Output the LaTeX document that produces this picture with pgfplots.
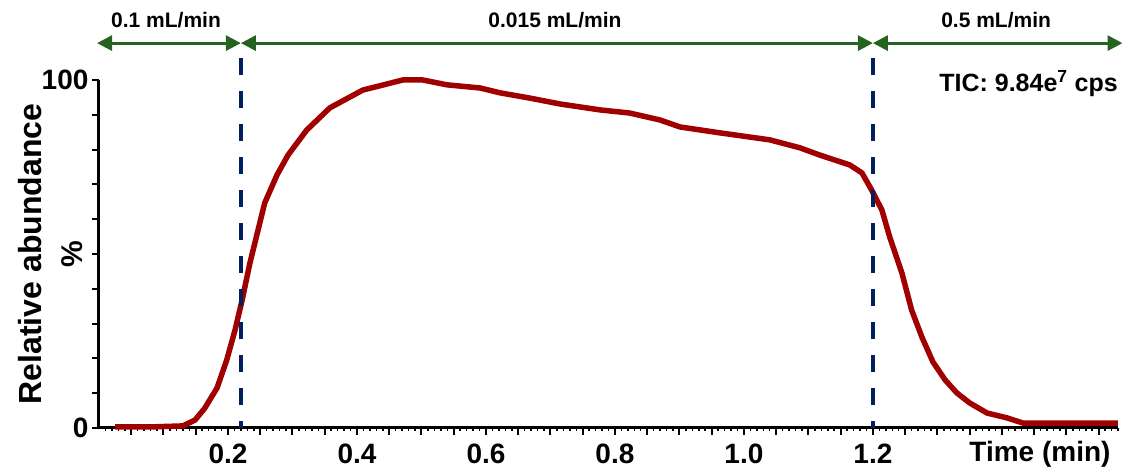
\documentclass[border=0pt]{standalone}
\usepackage{fontspec}
\setmainfont{Liberation Sans}
\usepackage{pgfplots}
\pgfplotsset{compat=1.18}
\usetikzlibrary{arrows.meta}
\definecolor{curvered}{RGB}{160,0,0}
\definecolor{navyblue}{RGB}{0,32,96}
\definecolor{arrowgreen}{RGB}{38,98,32}
\begin{document}
\begin{tikzpicture}
\path[use as bounding box] (0,0) rectangle (1124pt,470pt);
\begin{axis}[
  at={(99pt,42pt)}, anchor=south west,
  width=1019pt, height=348pt, scale only axis,
  xmin=0, xmax=1.58, ymin=0, ymax=100,
  axis x line=bottom, axis y line=left,
  axis line style={-, line width=3pt, black},
  clip=false,
  tick align=outside,
  xtick={0.2,0.4,0.6,0.8,1.0,1.2},
  xticklabels={0.2,0.4,0.6,0.8,1.0,1.2},
  minor xtick={0.05,0.1,...,1.55},
  extra x ticks={0.01,0.02,...,1.58},
  extra x tick labels={},
  extra x tick style={major tick length=3pt, tick style={line width=1.5pt}},
  ytick={0,10,20,30,40,50,60,70,80,90,100},
  yticklabels={0,{},{},{},{},{},{},{},{},{},100},
  major tick length=7pt, minor tick length=7pt,
  tick style={black, line width=2pt},
  ticklabel style={font=\fontsize{28}{30}\selectfont\bfseries},
  xticklabel style={yshift=-5pt},
]
\addplot[color=curvered, line width=5.5pt, line join=round] coordinates {
(0.025,0.3) (0.079,0.3) (0.130,0.6) (0.149,2.3) (0.164,5.7) (0.183,11.5)
(0.198,19.5) (0.211,28.2) (0.222,36.8) (0.234,47.4) (0.257,64.7) (0.276,72.7)
(0.293,78.4) (0.322,85.6) (0.358,92.0) (0.409,97.1) (0.471,100) (0.502,100)
(0.540,98.6) (0.591,97.7) (0.622,96.3) (0.668,94.8) (0.715,93.1) (0.777,91.4)
(0.823,90.5) (0.870,88.5) (0.901,86.5) (0.963,84.8) (1.040,82.8) (1.087,80.5)
(1.118,78.4) (1.164,75.6) (1.183,73.3) (1.198,68.4) (1.214,62.6) (1.226,54.9)
(1.245,44.5) (1.260,33.9) (1.276,26.1) (1.293,19.0) (1.312,13.8) (1.330,10.1)
(1.350,7.2) (1.377,4.3) (1.408,2.9) (1.433,1.4) (1.580,1.4)
};
\draw[navyblue, line width=4pt, dash pattern=on 17pt off 16pt] (axis cs:0.22,106.3) -- (axis cs:0.22,0);
\draw[navyblue, line width=4pt, dash pattern=on 17pt off 16pt] (axis cs:1.2,106.3) -- (axis cs:1.2,0);
\draw[arrowgreen, line width=3pt, {Triangle[length=15pt,width=15pt]}-{Triangle[length=15pt,width=15pt]}] (axis cs:-0.003,110.6) -- (axis cs:0.22,110.6);
\draw[arrowgreen, line width=3pt, {Triangle[length=15pt,width=15pt]}-{Triangle[length=15pt,width=15pt]}] (axis cs:0.22,110.6) -- (axis cs:1.2,110.6);
\draw[arrowgreen, line width=3pt, {Triangle[length=15pt,width=15pt]}-{Triangle[length=15pt,width=15pt]}] (axis cs:1.2,110.6) -- (axis cs:1.587,110.6);
\node[font=\fontsize{21}{23}\selectfont\bfseries] at (axis cs:0.104,117.2) {0.1 mL/min};
\node[font=\fontsize{21}{23}\selectfont\bfseries] at (axis cs:0.707,117.2) {0.015 mL/min};
\node[font=\fontsize{21}{23}\selectfont\bfseries] at (axis cs:1.391,117.2) {0.5 mL/min};
\node[anchor=east, font=\fontsize{25}{27}\selectfont\bfseries] at (axis cs:1.585,99.1) {TIC: 9.84e\textsuperscript{7} cps};
\node[rotate=90, font=\fontsize{32}{34}\selectfont\bfseries] at (axis cs:-0.107,50) {Relative abundance};
\node[rotate=90, font=\fontsize{30}{32}\selectfont\bfseries] at (axis cs:-0.042,50) {\%};
\node[anchor=base, font=\fontsize{28}{30}\selectfont\bfseries] at (axis cs:1.459,-9.6) {Time (min)};
\end{axis}
\end{tikzpicture}
\end{document}
